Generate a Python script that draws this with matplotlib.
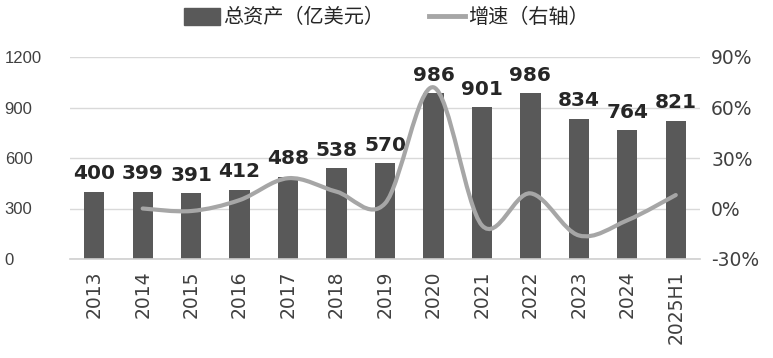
import numpy as np
import matplotlib.pyplot as plt
from matplotlib.path import Path
from matplotlib.patches import PathPatch
from matplotlib.lines import Line2D
from matplotlib.patches import Patch

plt.rcParams['font.family'] = ['DejaVu Sans', 'Noto Sans CJK SC']

years = ['2013', '2014', '2015', '2016', '2017', '2018', '2019',
         '2020', '2021', '2022', '2023', '2024', '2025H1']
assets = [400, 399, 391, 412, 488, 538, 570, 986, 901, 986, 834, 764, 821]
# growth (%), starts from 2014
growth = [0.0, -1.5, 5.0, 18.0, 10.0, 3.0, 72.0, -10.0, 9.0, -16.0, -7.0, 8.0]

bar_color = '#595959'
line_color = '#a6a6a6'
grid_color = '#d9d9d9'
text_color = '#404040'


def smooth_path(xs, ys, t=0.5):
    # Catmull-Rom style bezier path like Excel's smoothed line
    xs = np.asarray(xs, float)
    ys = np.asarray(ys, float)
    n = len(xs)
    verts = [(xs[0], ys[0])]
    codes = [Path.MOVETO]
    for i in range(n - 1):
        p0 = (xs[max(i - 1, 0)], ys[max(i - 1, 0)])
        p1 = (xs[i], ys[i])
        p2 = (xs[i + 1], ys[i + 1])
        p3 = (xs[min(i + 2, n - 1)], ys[min(i + 2, n - 1)])
        c1 = (p1[0] + (p2[0] - p0[0]) * t / 3, p1[1] + (p2[1] - p0[1]) * t / 3)
        c2 = (p2[0] - (p3[0] - p1[0]) * t / 3, p2[1] - (p3[1] - p1[1]) * t / 3)
        verts += [c1, c2, p2]
        codes += [Path.CURVE4] * 3
    return Path(verts, codes)


fig = plt.figure(figsize=(7.73, 3.58), dpi=100)
ax = fig.add_axes([70 / 773, 1 - 259 / 358, 630 / 773, 202 / 358])
ax2 = ax.twinx()

x = np.arange(len(years))
ax.bar(x, assets, width=0.42, color=bar_color, zorder=2)
for xi, v in zip(x, assets):
    ax.text(xi, v + 50, str(v), ha='center', va='bottom', fontsize=14.5,
            fontweight='bold', color='#262626', zorder=5)

ax.set_xlim(-0.5, len(years) - 0.5)
ax.set_ylim(0, 1200)
ax.set_yticks([0, 300, 600, 900, 1200])
ax.set_xticks(x)
ax.set_xticklabels(years, rotation=90, fontsize=13.5, color=text_color)
ax.tick_params(axis='y', labelsize=12, colors=text_color, length=0, pad=47)
ax.tick_params(axis='x', length=0, pad=8)
ax.grid(axis='y', color=grid_color, linewidth=1, zorder=0)
ax.set_axisbelow(True)
for s in ['top', 'right', 'left']:
    ax.spines[s].set_visible(False)
ax.spines['bottom'].set_color('#cfcfcf')
ax.spines['bottom'].set_linewidth(1.2)
for lab in ax.get_yticklabels():
    lab.set_horizontalalignment('left')
    lab.set_family(['Liberation Sans Narrow', 'Liberation Sans', 'DejaVu Sans'])

ax2.set_ylim(-30, 90)
ax2.set_yticks([-30, 0, 30, 60, 90])
ax2.set_yticklabels(['-30%', '0%', '30%', '60%', '90%'])
ax2.tick_params(axis='y', labelsize=13.5, colors=text_color, length=0, pad=8)
for s in ax2.spines.values():
    s.set_visible(False)
ax2.add_patch(PathPatch(smooth_path(x[1:], growth), facecolor='none',
                        edgecolor=line_color, linewidth=3, zorder=3,
                        capstyle='round'))

handles = [Patch(color=bar_color),
           Line2D([0], [0], color=line_color, linewidth=3.5)]
fig.legend(handles, ['总资产（亿美元）', '增速（右轴）'], loc='upper center',
           bbox_to_anchor=(0.5, 1.03), ncol=2, frameon=False,
           prop={'family': ['Noto Sans CJK SC'], 'size': 14.5},
           labelcolor='#262626', handlelength=1.8, handleheight=0.9,
           handletextpad=0.15, columnspacing=2.2)

fig.savefig('out.png', dpi=100)
